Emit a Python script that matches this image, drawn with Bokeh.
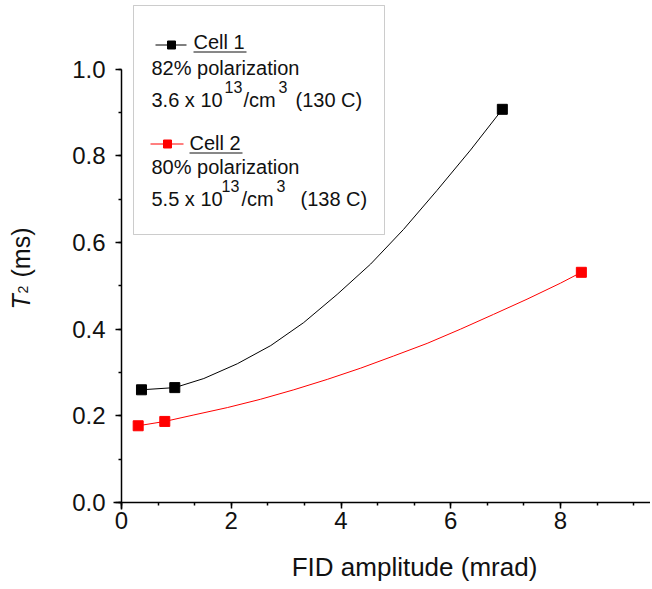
import math
from bokeh.plotting import figure
from bokeh.models import Label, BoxAnnotation, SingleIntervalTicker, PrintfTickFormatter, Range1d
from bokeh.embed import file_html
from bokeh.resources import INLINE

# ---- data ----
cell1_x = [0.364, 0.971, 6.94]
cell1_y = [0.260, 0.265, 0.907]
cell2_x = [0.304, 0.789, 8.38]
cell2_y = [0.177, 0.187, 0.531]

fit1_x = [0.364, 0.971, 1.50, 2.11, 2.72, 3.32, 3.93, 4.54, 5.14, 5.75, 6.36, 6.94]
fit1_y = [0.260, 0.265, 0.286, 0.320, 0.362, 0.415, 0.480, 0.550, 0.630, 0.720, 0.813, 0.907]
fit2_x = [0.304, 0.789, 1.32, 1.93, 2.53, 3.14, 3.75, 4.36, 4.96, 5.57, 6.18, 6.78, 7.39, 8.00, 8.38]
fit2_y = [0.177, 0.187, 0.202, 0.219, 0.238, 0.260, 0.284, 0.310, 0.338, 0.367, 0.400, 0.434, 0.469, 0.506, 0.531]

x_ticks_interval = 2
y_ticks_interval = 0.2
x_label = "FID amplitude (mrad)"
y_label_parts = ["T", "2", "(ms)"]
legend_rows = ["Cell 1", "82% polarization", "3.6 x 10", "13", "/cm", "3", "(130 C)",
               "Cell 2", "80%  polarization", "5.5 x 10", "13", "/cm", "3", "(138 C)"]

FONT = "Liberation Sans"
W, H = 650, 587
X0_PX, Y0_PX = 121, 502      # page pixel of the data origin
PX_X, PX_Y = 54.875, 433.5   # pixels per data unit
K = 0.4                      # empirical baseline correction (fraction of font size)

def px2x(px):
    return (px - X0_PX) / PX_X

def px2y(py):
    return (Y0_PX - py) / PX_Y

p = figure(width=W, height=H,
           x_range=Range1d(px2x(0), px2x(W)), y_range=Range1d(px2y(H), px2y(0)),
           output_backend="svg", toolbar_location=None,
           min_border_left=0, min_border_right=0, min_border_top=0, min_border_bottom=0)
p.xgrid.visible = False
p.ygrid.visible = False
p.outline_line_color = None
p.background_fill_color = "white"
p.border_fill_color = "white"

for ax in (p.xaxis[0], p.yaxis[0]):
    ax.fixed_location = 0
    ax.axis_line_width = 1.5
    ax.axis_line_color = "black"
    ax.major_tick_line_width = 1.5
    ax.minor_tick_line_width = 1.5
    ax.major_tick_line_color = "black"
    ax.minor_tick_line_color = "black"
    ax.major_tick_in = 0
    ax.major_tick_out = 6
    ax.minor_tick_in = 0
    ax.minor_tick_out = 3
    ax.major_label_text_font = FONT
    ax.major_label_text_font_size = "24px"
    ax.major_label_text_color = "#111111"

p.xaxis.ticker = SingleIntervalTicker(interval=x_ticks_interval, num_minor_ticks=3)
p.yaxis.ticker = SingleIntervalTicker(interval=y_ticks_interval, num_minor_ticks=2)
p.yaxis.formatter = PrintfTickFormatter(format="%.1f")
p.xaxis.bounds = (-0.15, px2x(W))
p.yaxis.bounds = (-0.015, 1.0)
p.xaxis.major_label_standoff = 3
p.yaxis.major_label_standoff = 10

# data
p.line(fit1_x, fit1_y, color="black", line_width=1)
p.line(fit2_x, fit2_y, color="red", line_width=1)
p.scatter(cell1_x, cell1_y, marker="square", size=10, color="black")
p.scatter(cell2_x, cell2_y, marker="square", size=10, color="red")

# axis titles
p.add_layout(Label(x=px2x(414), y=px2y(577 - K * 26), text=x_label, text_font=FONT,
                   text_font_size="26px", text_align="center", text_baseline="alphabetic",
                   text_color="#111111"))

def vtxt(bx, by, s, size, style="normal"):
    p.add_layout(Label(x=px2x(bx - K * size), y=px2y(by), text=s, text_font=FONT,
                       text_font_size=f"{size}px", text_font_style=style, angle=math.pi / 2,
                       text_baseline="alphabetic", text_color="#111111"))

vtxt(30, 309, y_label_parts[0], 25, "italic")
vtxt(28, 293, y_label_parts[1], 14)
vtxt(30, 277, y_label_parts[2], 25)

# legend box (under the glyphs so the samples show)
p.add_layout(BoxAnnotation(left=px2x(133), right=px2x(384), top=px2y(5), bottom=px2y(234),
                           fill_color="white", fill_alpha=1.0, line_color="#555555",
                           line_width=1, level="underlay"))

# legend samples
p.line([px2x(155), px2x(186)], [px2y(44.5), px2y(44.5)], color="black", line_width=1)
p.scatter([px2x(171)], [px2y(44.5)], marker="square", size=8, color="black")
p.line([px2x(150), px2x(183)], [px2y(143.5), px2y(143.5)], color="red", line_width=1)
p.scatter([px2x(167)], [px2y(143.5)], marker="square", size=8, color="red")

def txt(px, py, s, size=20):
    p.add_layout(Label(x=px2x(px), y=px2y(py - K * size), text=s, text_font=FONT,
                       text_font_size=f"{size}px", text_baseline="alphabetic",
                       text_color="#111111"))

# Cell 1
txt(193, 49, legend_rows[0])
p.segment(x0=[px2x(193)], y0=[px2y(51.5)], x1=[px2x(246)], y1=[px2y(51.5)],
          color="#111111", line_width=1)
txt(151, 75, legend_rows[1])
txt(151, 107, legend_rows[2])
txt(224, 93, legend_rows[3], 16)
txt(243, 107, legend_rows[4])
txt(278, 93, legend_rows[5], 16)
txt(295, 107, legend_rows[6])
# Cell 2
txt(189, 150, legend_rows[7])
p.segment(x0=[px2x(189)], y0=[px2y(152.5)], x1=[px2x(242)], y1=[px2y(152.5)],
          color="#111111", line_width=1)
txt(151, 174, legend_rows[8])
txt(151, 206, legend_rows[9])
txt(221, 192, legend_rows[10], 16)
txt(241, 206, legend_rows[11])
txt(276, 192, legend_rows[12], 16)
txt(300, 206, legend_rows[13])

open("out.html", "w").write(file_html(p, INLINE))
